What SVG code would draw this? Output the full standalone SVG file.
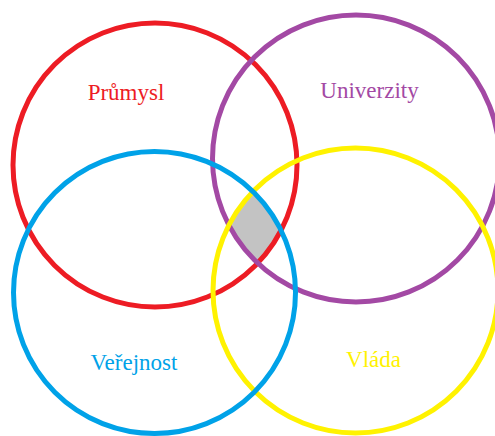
<svg xmlns="http://www.w3.org/2000/svg" width="495" height="436" viewBox="0 0 495 436">
<style>
.ring{fill:none;stroke-width:5}
.lbl{font-family:"Liberation Serif","Times New Roman",serif;font-size:23px;text-anchor:middle}
</style>
<defs>
<clipPath id="cR"><circle cx="155" cy="165" r="142"/></clipPath>
<clipPath id="cP"><circle cx="356" cy="158.5" r="143.5"/></clipPath>
<clipPath id="cB"><circle cx="154.5" cy="292.5" r="141"/></clipPath>
</defs>
<rect width="495" height="436" fill="#fff"/>
<g id="overlap" clip-path="url(#cR)"><g clip-path="url(#cP)"><g clip-path="url(#cB)"><circle cx="355.5" cy="290.5" r="142.5" fill="#C3C3C3"/></g></g></g>
<g id="prumysl"><circle class="ring" cx="155" cy="165" r="142" stroke="#ED1C24"/><text class="lbl" x="126" y="100" fill="#ED1C24">Průmysl</text></g>
<g id="univerzity"><circle class="ring" cx="356" cy="158.5" r="143.5" stroke="#A349A4"/><text class="lbl" x="369.5" y="98" fill="#A349A4">Univerzity</text></g>
<g id="vlada"><circle class="ring" cx="355.5" cy="290.5" r="142.5" stroke="#FFF200"/><text class="lbl" x="373.5" y="367" fill="#FFF200">Vláda</text></g>
<g id="verejnost"><circle class="ring" cx="154.5" cy="292.5" r="141" stroke="#00A2E8"/><text class="lbl" x="134" y="370" fill="#00A2E8">Veřejnost</text></g>
</svg>
